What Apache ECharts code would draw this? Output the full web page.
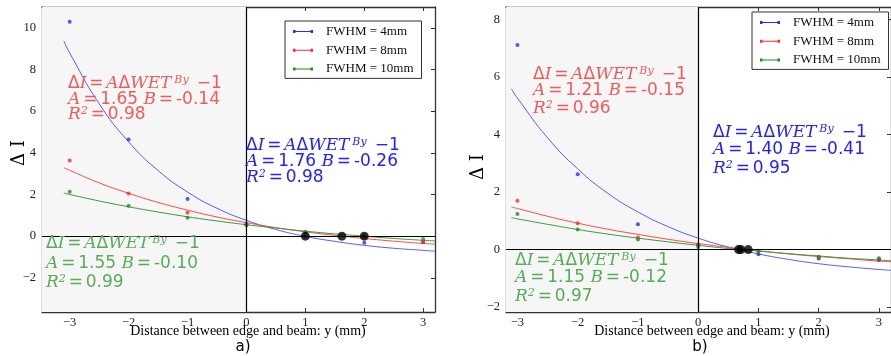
<!DOCTYPE html>
<html>
<head>
<meta charset="utf-8">
<script src="https://cdn.jsdelivr.net/npm/echarts@6/dist/echarts.min.js"></script>
<style>
  html, body { margin: 0; padding: 0; background: #ffffff; }
  #chart { width: 891px; height: 356px; }
</style>
</head>
<body>
<div id="chart"></div>
<script>
// ---- data ----
const seriesNames = ['FWHM = 4mm', 'FWHM = 8mm', 'FWHM = 10mm'];
const measX = [-3, -2, -1, 0, 1, 2, 3];
const fitX = [-3.1, -3, -2.5, -2, -1.5, -1, -0.5, 0, 0.5, 1, 1.5, 2, 2.5, 3, 3.2];
const xTicks = [-3, -2, -1, 0, 1, 2, 3];

// panel a)
const aBlue  = [10.29, 4.64, 1.78, 0.58, -0.02, -0.31, -0.28];
const aRed   = [3.63, 2.05, 1.12, 0.55, 0.14, -0.06, -0.27];
const aGreen = [2.13, 1.46, 0.88, 0.52, 0.21, 0.04, -0.14];
const aBlueFit  = [9.37, 8.79, 6.36, 4.53, 3.15, 2.12, 1.34, 0.76, 0.32, -0.01, -0.25, -0.44, -0.58, -0.68, -0.72];
const aRedFit   = [3.29, 3.16, 2.56, 2.06, 1.62, 1.25, 0.92, 0.65, 0.41, 0.21, 0.04, -0.11, -0.24, -0.35, -0.38];
const aGreenFit = [2.07, 2.00, 1.69, 1.41, 1.16, 0.93, 0.73, 0.55, 0.39, 0.24, 0.11, 0.00, -0.11, -0.20, -0.23];
const aRoots = [1.0, 1.62, 2.0];
const aYTicks = [-2, 0, 2, 4, 6, 8, 10];
const aParams = [
  { A: '1.76', B: '-0.26', R2: '0.98' },
  { A: '1.65', B: '-0.14', R2: '0.98' },
  { A: '1.55', B: '-0.10', R2: '0.99' }
];

// panel b)
const bBlue  = [7.12, 2.62, 0.88, 0.18, -0.16, -0.31, -0.36];
const bRed   = [1.70, 0.92, 0.42, 0.16, -0.04, -0.27, -0.33];
const bGreen = [1.24, 0.70, 0.35, 0.09, -0.07, -0.25, -0.30];
const bBlueFit  = [5.59, 5.27, 3.89, 2.81, 1.96, 1.31, 0.80, 0.40, 0.09, -0.15, -0.34, -0.49, -0.60, -0.69, -0.72];
const bRedFit   = [1.48, 1.43, 1.16, 0.92, 0.71, 0.53, 0.36, 0.21, 0.08, -0.04, -0.15, -0.24, -0.32, -0.40, -0.42];
const bGreenFit = [1.11, 1.07, 0.88, 0.70, 0.54, 0.40, 0.27, 0.15, 0.04, -0.05, -0.14, -0.22, -0.30, -0.36, -0.39];
const bRoots = [0.67, 0.71, 0.83];
const bYTicks = [-2, 0, 2, 4, 6, 8];
const bParams = [
  { A: '1.40', B: '-0.41', R2: '0.95' },
  { A: '1.21', B: '-0.15', R2: '0.96' },
  { A: '1.15', B: '-0.12', R2: '0.97' }
];

// ---- styling ----
const markerColors = ['#2b2bff', '#ff2b2b', '#1f8f1f'];
const curveColors  = ['#5a5aff', '#ff4a4a', '#3a9a3a'];
const textColors   = ['#2222ff', '#f25a5a', '#58ad58'];
const frameColor = '#333333';
const minus = v => (v < 0 ? '\u2212' + Math.abs(v) : String(v));

const panels = [
  { grid: { left: 42, top: 7, right: 456, bottom: 44 }, x: [-3.47, 3.2], y: [-3.64, 11.0], yTicks: aYTicks,
    pts: [aBlue, aRed, aGreen], fits: [aBlueFit, aRedFit, aGreenFit], roots: aRoots },
  { grid: { left: 506, top: 7, right: -7, bottom: 44 }, x: [-3.19, 3.2], y: [-2.17, 8.44], yTicks: bYTicks,
    pts: [bBlue, bRed, bGreen], fits: [bBlueFit, bRedFit, bGreenFit], roots: bRoots }
];

const grids = [], xAxes = [], yAxes = [], series = [];

panels.forEach((p, gi) => {
  grids.push(Object.assign({ containLabel: false }, p.grid));
  const common = {
    type: 'value', gridIndex: gi, splitLine: { show: false },
    axisLine: { show: true, onZero: false, lineStyle: { color: frameColor, width: 1.3 } },
    axisTick: { show: true, inside: true, length: 4, lineStyle: { color: frameColor, width: 1 } }
  };
  const lbl = { color: '#222', fontFamily: 'Liberation Serif', fontSize: 12.5, formatter: minus };
  xAxes.push(Object.assign({}, common, {
    position: 'bottom', min: p.x[0], max: p.x[1],
    axisTick: Object.assign({}, common.axisTick, { customValues: xTicks }),
    axisLabel: Object.assign({ customValues: xTicks, margin: 4 }, lbl)
  }));
  xAxes.push(Object.assign({}, common, {
    position: 'top', min: p.x[0], max: p.x[1],
    axisTick: Object.assign({}, common.axisTick, { customValues: xTicks }),
    axisLabel: { show: false }
  }));
  yAxes.push(Object.assign({}, common, {
    position: 'left', min: p.y[0], max: p.y[1],
    axisTick: Object.assign({}, common.axisTick, { customValues: p.yTicks }),
    axisLabel: Object.assign({ customValues: p.yTicks, margin: 6 }, lbl)
  }));
  yAxes.push(Object.assign({}, common, {
    position: 'right', min: p.y[0], max: p.y[1],
    axisTick: Object.assign({}, common.axisTick, { customValues: p.yTicks }),
    axisLabel: { show: false }
  }));
  const xi = gi * 2, yi = gi * 2;

  // shaded half-plane y < 0 and the zero lines
  series.push({
    type: 'line', xAxisIndex: xi, yAxisIndex: yi, data: [], silent: true, z: 1,
    markArea: { silent: true, itemStyle: { color: '#f6f6f6' },
      data: [[{ xAxis: p.x[0] }, { xAxis: 0 }]] },
    markLine: { silent: true, symbol: ['none', 'none'], label: { show: false },
      lineStyle: { color: '#000', width: 1.2, type: 'solid' },
      data: [{ xAxis: 0 }, { yAxis: 0 }] }
  });

  seriesNames.forEach((name, k) => {
    series.push({
      name, type: 'line', xAxisIndex: xi, yAxisIndex: yi, smooth: true, showSymbol: false,
      symbol: 'none', z: 3, silent: true,
      lineStyle: { color: curveColors[k], width: 1 }, itemStyle: { color: markerColors[k] },
      data: fitX.map((x, i) => [x, p.fits[k][i]])
    });
    series.push({
      name, type: 'scatter', xAxisIndex: xi, yAxisIndex: yi, symbolSize: 4, z: 4, silent: true,
      itemStyle: { color: markerColors[k] },
      data: measX.map((x, i) => [x, p.pts[k][i]])
    });
  });

  series.push({
    type: 'scatter', xAxisIndex: xi, yAxisIndex: yi, symbolSize: 9, z: 5, silent: true,
    itemStyle: { color: '#000' }, data: p.roots.map(r => [r, 0])
  });
});

// ---- formula annotations ----
const rich = {
  m:   { fontFamily: 'DejaVu Sans', fontSize: 17, lineHeight: 18 },
  it:  { fontFamily: 'DejaVu Serif', fontStyle: 'italic', fontSize: 17, lineHeight: 18 },
  s:   { fontFamily: 'DejaVu Sans', fontSize: 9, lineHeight: 18 },
  sup: { fontFamily: 'DejaVu Serif', fontStyle: 'italic', fontSize: 11, lineHeight: 9, verticalAlign: 'top' }
};
const EQ = '{s| }{m|=}{s| }';
function formulaRows(prm) {
  return [
    '{m|\u0394}{it|I}' + EQ + '{it|A}{m|\u0394}{it|WET}{s| }{sup|By}{s| }{m| \u22121}',
    '{it|A}' + EQ + '{m|' + prm.A + ' }{it|B}' + EQ + '{m|' + prm.B + '}',
    '{it|R}{sup|2}' + EQ + '{m|' + prm.R2 + '}'
  ];
}
function formulaBlock(prm, color, x, ys) {
  return formulaRows(prm).map((t, i) => ({
    type: 'text', x: x, y: ys[i], z: 50, silent: true,
    style: { text: t, rich: rich, fill: color, align: 'left', verticalAlign: 'middle' }
  }));
}

const axisName = (x, y) => ({ type: 'text', x: x, y: y, rotation: Math.PI / 2, silent: true,
  style: { text: '\u0394 I', font: '18px DejaVu Serif', fill: '#000', align: 'center', verticalAlign: 'middle' } });
const xName = (x) => ({ type: 'text', x: x, y: 331, silent: true,
  style: { text: 'Distance between edge and beam: y (mm)', font: '14px Liberation Serif', fill: '#000', align: 'center', verticalAlign: 'middle' } });
const panelTag = (x, t) => ({ type: 'text', x: x, y: 347, silent: true,
  style: { text: t, font: '15px DejaVu Sans', fill: '#000', align: 'center', verticalAlign: 'middle' } });

const graphics = [].concat(
  formulaBlock(aParams[1], textColors[1], 68, [84, 100, 115]),
  formulaBlock(aParams[0], textColors[0], 246, [146, 162, 178]),
  formulaBlock(aParams[2], textColors[2], 46, [244, 264, 283]),
  formulaBlock(bParams[1], textColors[1], 533, [75, 91, 109]),
  formulaBlock(bParams[0], textColors[0], 713, [133, 150, 169]),
  formulaBlock(bParams[2], textColors[2], 515, [261, 278, 297]),
  [axisName(19, 153), axisName(478, 167), xName(248), xName(712), panelTag(243, 'a)'), panelTag(700, 'b)')]
);

const legendIcon = 'path://M0,3.5h20v1h-20z M0,2.5h2.5v3h-2.5z M17.5,2.5h2.5v3h-2.5z';
function legendAt(left, top) {
  return {
    left, top, orient: 'vertical', data: seriesNames, icon: legendIcon, selectedMode: false,
    itemWidth: 20, itemHeight: 8, itemGap: 5.7, padding: [4, 8, 3, 8],
    borderColor: '#333', borderWidth: 1, borderRadius: 0, backgroundColor: '#fff',
    textStyle: { fontFamily: 'Liberation Serif', fontSize: 13, color: '#111', padding: [0, 0, 0, 8] }
  };
}

const chart = echarts.init(document.getElementById('chart'), null, { renderer: 'canvas' });
chart.setOption({
  animation: false,
  backgroundColor: '#ffffff',
  grid: grids,
  xAxis: xAxes,
  yAxis: yAxes,
  legend: [legendAt(285, 21), legendAt(752, 12)],
  series: series,
  graphic: graphics
});
</script>
</body>
</html>
